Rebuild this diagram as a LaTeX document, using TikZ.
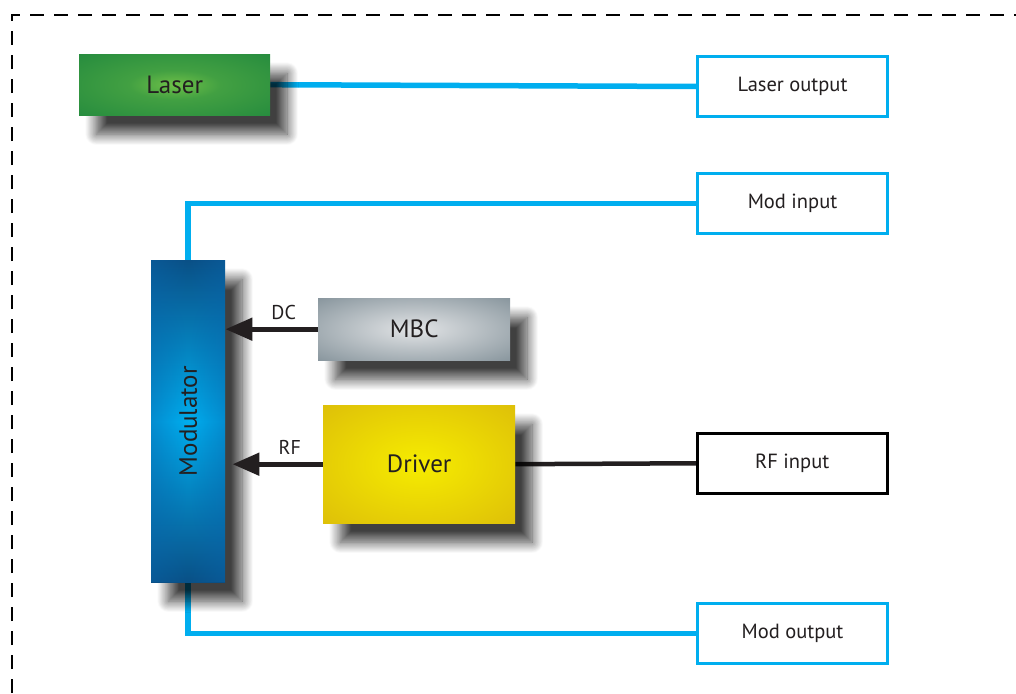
\documentclass[tikz,border=0pt]{standalone}
\usepackage{fontspec}
\setmainfont{PT Sans}
\usetikzlibrary{shadows.blur,arrows.meta,fadings}
\pgfdeclarelayer{background}
\pgfsetlayers{background,main}
\definecolor{cyanline}{HTML}{00AEEF}
\definecolor{txt}{HTML}{231F20}
\definecolor{lasin}{RGB}{110,192,72}
\definecolor{lasout}{RGB}{22,128,60}
\definecolor{modin}{RGB}{0,174,239}
\definecolor{modmid}{RGB}{8,100,170}
\definecolor{modout}{RGB}{10,80,134}
\definecolor{mbcin}{RGB}{226,228,230}
\definecolor{mbcout}{RGB}{100,118,128}
\definecolor{drvin}{RGB}{246,236,0}
\definecolor{drvout}{RGB}{212,174,12}
\pgfdeclareradialshading{lasersh}{\pgfpoint{0bp}{0bp}}{color(0bp)=(lasin); color(12bp)=(lasin!50!lasout); color(50bp)=(lasout)}
\pgfdeclareradialshading{mbcsh}{\pgfpoint{0bp}{0bp}}{color(0bp)=(mbcin); color(50bp)=(mbcout)}
\pgfdeclareradialshading{drvsh}{\pgfpoint{0bp}{0bp}}{color(0bp)=(drvin); color(50bp)=(drvout)}
\tikzfading[name=sidefade, left color=transparent!55, right color=transparent!55, middle color=transparent!100]
\tikzset{
  block/.style={anchor=north west, inner sep=0pt, text=txt, draw=none,
    font=\fontsize{25}{28}\selectfont,
    blur shadow={shadow xshift=17pt, shadow yshift=-19pt, shadow blur radius=11pt,
      shadow opacity=75, shadow blur steps=16}},
  port/.style={anchor=north west, inner sep=0pt, text=txt, fill=white,
    minimum width=190pt, minimum height=60pt, font=\fontsize{20.5}{24}\selectfont},
  cyanport/.style={port, draw=cyanline, line width=3pt},
  blackport/.style={port, draw=black, line width=2.5pt},
  optline/.style={draw=cyanline, line width=5.5pt},
  sigarrow/.style={draw=txt, line width=5pt, -{Triangle[length=27pt,width=22pt]}},
  elline/.style={draw=txt, line width=4.5pt},
  siglabel/.style={text=txt, font=\fontsize{20}{22}\selectfont}
}
\begin{document}
\begin{tikzpicture}[x=1pt,y=-1pt]
\useasboundingbox (0,0) rectangle (1016,693);
\draw[line width=2.5pt, dash pattern=on 14pt off 10pt] (12,693) -- (12,15) -- (1016,15);

\node[block, minimum width=191pt, minimum height=61pt, shading=lasersh] (laser) at (79,54) {Laser};
\node[block, minimum width=74pt, minimum height=322pt, top color=modout, bottom color=modout, middle color=modin] (mod) at (151,260) {};
\fill[modmid, path fading=sidefade] (mod.north west) rectangle (mod.south east);
\node[rotate=90, text=txt, font=\fontsize{25}{28}\selectfont] (modlabel) at (mod.center) {Modulator};
\node[block, minimum width=192pt, minimum height=62pt, shading=mbcsh] (mbc) at (318,298) {MBC};
\node[block, minimum width=192pt, minimum height=118pt, shading=drvsh] (drv) at (323,405) {Driver};

\node[cyanport] (lout) at (696,55) {Laser output};
\node[cyanport] (modin) at (696,172) {Mod input};
\node[blackport] (rfin) at (696,432) {RF input};
\node[cyanport] (modout) at (696,602) {Mod output};

\begin{pgfonlayer}{background}
\draw[optline] (laser.east) -- (lout.west);
\draw[optline] (mod.north) |- (modin.west);
\draw[optline] (mod.south) |- (modout.west);
\draw[elline] (drv.east) -- (rfin.west);
\end{pgfonlayer}
\draw[sigarrow] (mbc.west) -- (mod.east |- mbc.west) node[siglabel, pos=0.37, above=4pt] (dc) {DC};
\draw[sigarrow, shorten >=7pt] (drv.west) -- (mod.east |- drv.west) node[siglabel, pos=0.34, above=4pt] (rf) {RF};
\end{tikzpicture}
\end{document}
